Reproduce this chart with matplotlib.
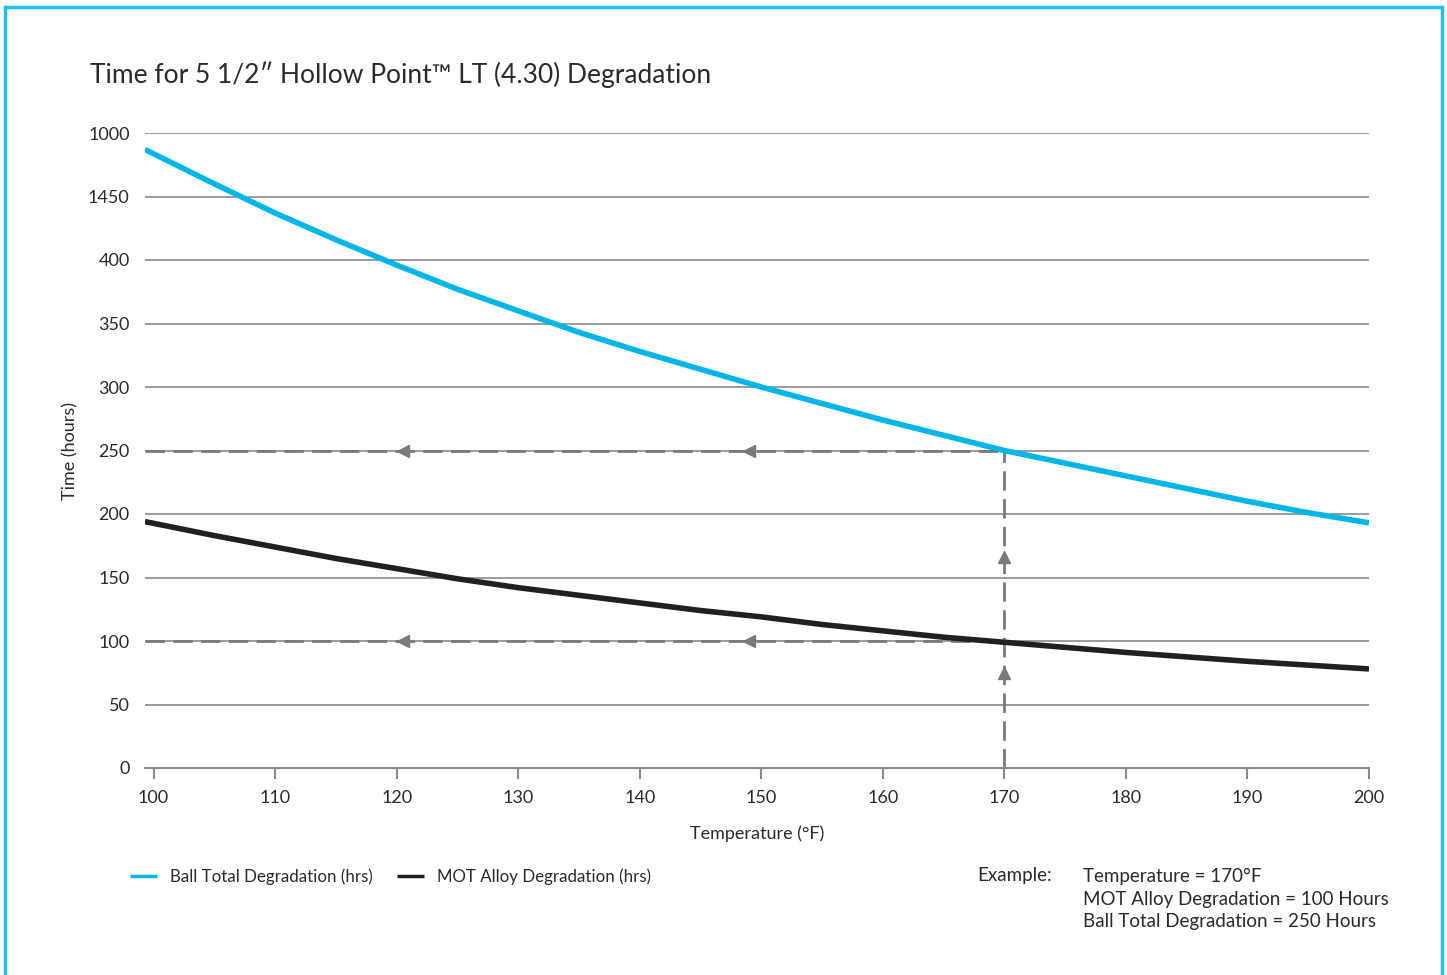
import matplotlib.pyplot as plt
from matplotlib.patches import Rectangle

plt.rcParams['font.family'] = ['Lato', 'DejaVu Sans']

# values
temps = [99.3, 105, 110, 115, 120, 125, 130, 135, 140, 145, 150,
         155, 160, 165, 170, 175, 180, 185, 190, 195, 200]
ball_total = [487, 460, 437, 416, 396, 377, 360, 343, 328, 314, 300,
              287, 274, 262, 250, 240, 230, 220, 210, 201, 193]
mot_alloy = [194, 183, 174, 165, 157, 149, 142, 136, 130, 124, 119,
             113, 108, 103, 99, 95, 91, 87.5, 84, 81, 78]

y_ticks = [0, 50, 100, 150, 200, 250, 300, 350, 400, 450, 500]
y_labels = ['0', '50', '100', '150', '200', '250', '300', '350', '400', '1450', '1000']
x_ticks = [100, 110, 120, 130, 140, 150, 160, 170, 180, 190, 200]

ex_temp = 170
ex_mot = 100
ex_ball = 250

blue = '#00b5e8'
dark = '#231f20'
grey = '#7a7a7a'
txt = '#2a2a2a'

fig = plt.figure(figsize=(14.47, 9.75), dpi=100)
fig.patches.append(Rectangle((5 / 1447, -0.05), 1437 / 1447, 1.05 - 7 / 975,
                             transform=fig.transFigure, fill=False,
                             edgecolor='#1ec0ef', lw=2.5))

ax = fig.add_axes([145 / 1447, (975 - 768) / 975, (1369 - 145) / 1447, (768 - 133) / 975])
ax.set_xlim(99.3, 200)
ax.set_ylim(0, 500)

for v in y_ticks[1:]:
    ax.axhline(v, color='#8a8a8a', lw=1.2, zorder=1)

# example guide lines
dash = (0, (7, 3))
ax.plot([99.3, ex_temp], [ex_ball, ex_ball], color=grey, lw=2, linestyle=dash, zorder=2)
ax.plot([99.3, ex_temp], [ex_mot, ex_mot], color=grey, lw=2, linestyle=dash, zorder=2)
ax.plot([ex_temp, ex_temp], [0, ex_ball], color=grey, lw=2, linestyle=dash, zorder=2)
for yv in [ex_ball, ex_mot]:
    for xv in [120.5, 149]:
        ax.plot(xv, yv, marker='<', color=grey, markersize=8, zorder=3)
for yv in [75, 166]:
    ax.plot(ex_temp, yv, marker='^', color=grey, markersize=8, zorder=3)

ax.plot(temps, ball_total, color=blue, lw=4, label='Ball Total Degradation (hrs)', zorder=4,
        solid_capstyle='butt', solid_joinstyle='round')
ax.plot(temps, mot_alloy, color=dark, lw=4, label='MOT Alloy Degradation (hrs)', zorder=4,
        solid_capstyle='butt', solid_joinstyle='round')

for s in ['top', 'right', 'left']:
    ax.spines[s].set_visible(False)
ax.spines['bottom'].set_color('#8a8a8a')
ax.spines['bottom'].set_linewidth(1.5)

ax.set_xticks(x_ticks)
ax.set_xticklabels([str(t) for t in x_ticks])
ax.set_yticks(y_ticks)
ax.set_yticklabels(y_labels)
ax.tick_params(axis='x', length=8, width=1.5, color='#8a8a8a', labelsize=13,
               labelcolor=txt, pad=8)
ax.tick_params(axis='y', length=0, labelsize=13, labelcolor=txt, pad=11)

ax.set_xlabel('Temperature (°F)', fontsize=13, color=txt, labelpad=14)
ax.set_ylabel('Time (hours)', fontsize=13, color=txt, labelpad=7)

fig.text(90 / 1447, 1 - 75 / 975, 'Time for 5 1/2\u2033 Hollow Point\u2122 LT (4.30) Degradation',
         fontsize=19, color=txt, va='center', ha='left')

leg = ax.legend(loc='upper left', bbox_to_anchor=(-0.025, -0.134), ncol=2, frameon=False,
                fontsize=12.2, handlelength=1.6, handletextpad=0.8, columnspacing=1.4,
                labelcolor=txt)
for h in leg.get_lines():
    h.set_linewidth(2.5)

fig.text(977 / 1447, 1 - 876 / 975, 'Example:', fontsize=13.5, color=txt, va='center')
fig.text(1083 / 1447, 1 - 876 / 975, 'Temperature = 170°F', fontsize=13.5, color=txt, va='center')
fig.text(1083 / 1447, 1 - 899 / 975, 'MOT Alloy Degradation = 100 Hours', fontsize=13.5,
         color=txt, va='center')
fig.text(1083 / 1447, 1 - 922 / 975, 'Ball Total Degradation = 250 Hours', fontsize=13.5,
         color=txt, va='center')

fig.savefig('out.png', dpi=100)
